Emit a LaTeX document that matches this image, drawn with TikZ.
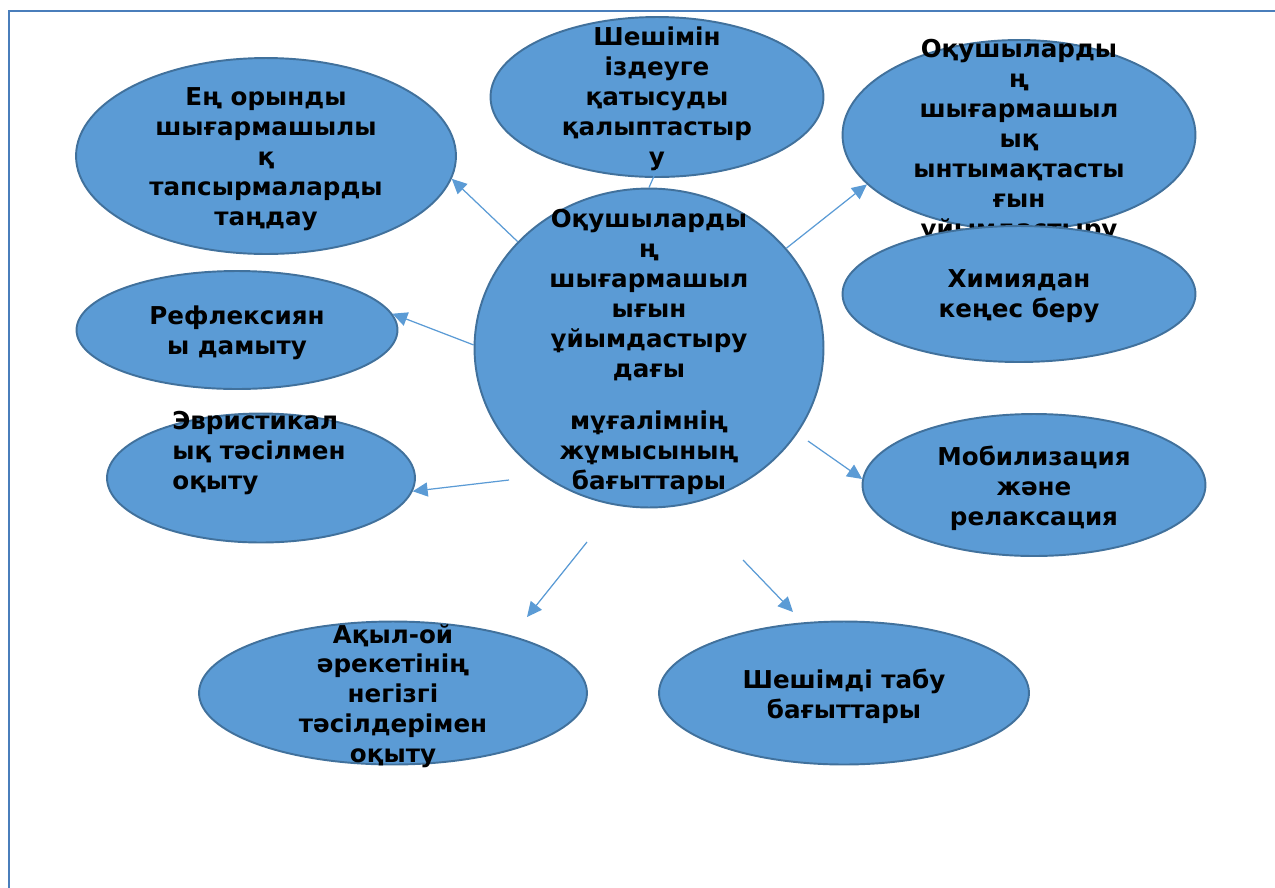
\documentclass[tikz,border=0pt]{standalone}
\usepackage{fontspec}
\setmainfont{DejaVu Sans}
\usetikzlibrary{arrows.meta,shapes.geometric}
\definecolor{bubblefill}{HTML}{5B9BD5}
\definecolor{bubbleline}{HTML}{41719C}
\definecolor{framecol}{HTML}{4A7EBB}
\tikzset{
  bubble/.style={ellipse, draw=bubbleline, fill=bubblefill, line width=1.1pt, inner sep=0pt},
  caption/.style={align=center, font=\fontsize{14}{17}\selectfont\bfseries, inner sep=0pt},
  link/.style={draw=bubblefill, line width=0.7pt, -{Triangle[length=8.5pt,width=8pt]}}
}
\begin{document}
\begin{tikzpicture}[x=0.02cm,y=-0.02cm]
\useasboundingbox (0,0) rectangle (1275,887);
\draw[framecol, line width=1.5pt] (9,900) -- (9,11) -- (1290,11);

\node[bubble, minimum width=7.6cm, minimum height=3.92cm] (e1) at (266,156) {};
\node[caption] (t1) at (266,159) {Ең орынды\\шығармашылы\\қ\\тапсырмаларды\\таңдау};
\node[bubble, minimum width=6.66cm, minimum height=3.2cm] (e2) at (657,97) {};
\node[caption] (t2) at (657,99) {Шешімін\\іздеуге\\қатысуды\\қалыптастыр\\у};
\node[bubble, minimum width=7.06cm, minimum height=3.8cm] (e3) at (1019,135) {};
\node[caption] (t3) at (1019,141) {Оқушыларды\\ң\\шығармашыл\\ық\\ынтымақтасты\\ғын\\ұйымдастыру};
\node[bubble, minimum width=7.06cm, minimum height=2.72cm] (e5) at (1019,294) {};
\node[caption] (t5) at (1019,296) {Химиядан\\кеңес беру};
\node[bubble, minimum width=6.98cm, minimum height=6.38cm] (c) at (649,348) {};
\node[caption] (tc) at (649,352) {Оқушыларды\\ң\\шығармашыл\\ығын\\ұйымдастыру\\дағы\\[13pt]мұғалімнің\\жұмысының\\бағыттары};
\node[bubble, minimum width=6.42cm, minimum height=2.36cm] (e4) at (237,330) {};
\node[caption] (t4) at (237,333) {Рефлексиян\\ы дамыту};
\node[bubble, minimum width=6.16cm, minimum height=2.58cm] (e6) at (261,478) {};
\node[caption, align=left, anchor=west] (t6) at (172,453) {Эвристикал\\ық тәсілмен\\оқыту};
\node[bubble, minimum width=6.86cm, minimum height=2.84cm] (e7) at (1034,485) {};
\node[caption] (t7) at (1034,488) {Мобилизация\\және\\релаксация};
\node[bubble, minimum width=7.76cm, minimum height=2.86cm] (e8) at (393,693) {};
\node[caption] (t8) at (393,696) {Ақыл-ой\\әрекетінің\\негізгі\\тәсілдерімен\\оқыту};
\node[bubble, minimum width=7.4cm, minimum height=2.86cm] (e9) at (844,693) {};
\node[caption] (t9) at (844,696) {Шешімді табу\\бағыттары};

% free ends of the lower arrows
\coordinate (s6) at (509,480);
\coordinate (s7) at (808,441);
\coordinate (s8) at (587,542);
\coordinate (p8) at (527,617);
\coordinate (s9) at (743,560);
\coordinate (p9) at (793,612);

\draw[link] (c.141) -- (e1.-7);
\draw[link] (c.179) -- (e4.6);
\draw[link, -] (c.north) -- ([yshift=5pt]e2.south);
\draw[link] (c.36) -- (e3.198);
\draw[link] (s7) -- (e7.178);
\draw[link] (s6) -- (e6.-5);
\draw[link] (s8) -- (p8);
\draw[link] (s9) -- (p9);
\end{tikzpicture}
\end{document}
